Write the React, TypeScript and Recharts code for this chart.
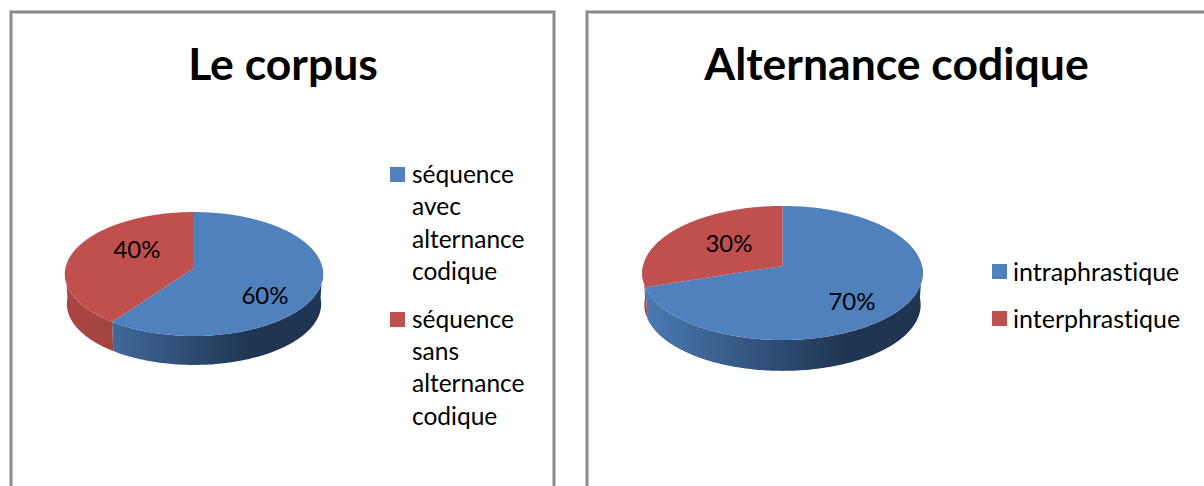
import React from 'react';
import { PieChart, Pie, Legend } from 'recharts';

const corpusNames = ['séquence avec alternance codique', 'séquence sans alternance codique'];
const corpusValues = [60, 40];
const alternanceNames = ['intraphrastique', 'interphrastique'];
const alternanceValues = [70, 30];
const sliceColors = ['#4f81bd', '#c0504d'];

const FONT = 'Lato, Carlito, Calibri, sans-serif';

type Disc = { b: number; a: number; k: number; depth: number };

// perspective projection of a point on the unit disc, theta clockwise from 12 o'clock
function project(cx: number, cy: number, d: Disc, theta: number, shrink = 1, dy = 0) {
  const rad = (theta * Math.PI) / 180;
  const u = Math.sin(rad);
  const v = -Math.cos(rad);
  const s = 1 / (1 - d.k * v);
  return [cx + d.b * shrink * u * s, cy + dy + d.a * shrink * v * s];
}

function arcPoints(cx: number, cy: number, d: Disc, from: number, to: number, shrink = 1, dy = 0) {
  const pts: number[][] = [];
  const steps = Math.max(2, Math.ceil(Math.abs(to - from)));
  for (let i = 0; i <= steps; i++) {
    pts.push(project(cx, cy, d, from + ((to - from) * i) / steps, shrink, dy));
  }
  return pts;
}

const toPath = (pts: number[][]) =>
  'M' + pts.map((p) => `${p[0].toFixed(2)},${p[1].toFixed(2)}`).join('L') + 'Z';

function makeSlice(d: Disc, prefix: string) {
  return function Slice(props: any) {
    const { cx, cy, startAngle, endAngle, fill, index } = props;
    const from = 90 - startAngle;
    const to = 90 - endAngle;
    const wallFrom = Math.max(from, 90);
    const wallTo = Math.min(to, 270);
    const blue = fill === sliceColors[0];
    const id = `${prefix}-wall-${index}`;
    let wall = null;
    if (wallTo > wallFrom) {
      const pts = [
        ...arcPoints(cx, cy, d, wallFrom, wallTo),
        ...arcPoints(cx, cy, d, wallTo, wallFrom, 0.985, d.depth),
      ];
      wall = <path d={toPath(pts)} fill={`url(#${id})`} />;
    }
    return (
      <g>
        <defs>
          <linearGradient
            id={id}
            gradientUnits="userSpaceOnUse"
            x1={cx - d.b * 0.95}
            x2={cx + d.b * 0.45}
            y1={0}
            y2={0}
          >
            <stop offset="0" stopColor={blue ? '#4a78b0' : '#a94643'} />
            <stop offset="1" stopColor={blue ? '#1f3552' : '#8f3835'} />
          </linearGradient>
        </defs>
        {wall}
        <path d={toPath([[cx, cy], ...arcPoints(cx, cy, d, from, to)])} fill={fill} />
      </g>
    );
  };
}

type PanelProps = {
  prefix: string;
  left: number;
  width: number;
  title: string;
  titleX: number;
  names: string[];
  values: number[];
  cx: number;
  cy: number;
  disc: Disc;
  labelAt: number[][];
  legendLeft: number;
  legendTop: number;
  legendWidth: number;
  legendGap: number;
  legendSize: number;
};

function Panel(p: PanelProps) {
  const table = p.names.map((name, i) => ({ name, value: p.values[i], fill: sliceColors[i] }));
  return (
    <div style={{ position: 'absolute', left: p.left, top: 0, width: p.width, height: 486 }}>
      <div
        style={{
          position: 'absolute',
          left: p.titleX - 300,
          width: 600,
          top: 36,
          textAlign: 'center',
          fontFamily: FONT,
          fontWeight: 700,
          fontSize: 44.5,
          lineHeight: '54px',
          color: '#000',
        }}
      >
        {p.title}
      </div>
      <PieChart width={p.width} height={486} margin={{ top: 0, right: 0, bottom: 0, left: 0 }}>
        <Pie
          data={table}
          dataKey="value"
          nameKey="name"
          cx={p.cx}
          cy={p.cy}
          outerRadius={p.disc.b}
          startAngle={90}
          endAngle={-270}
          stroke="none"
          isAnimationActive={false}
          shape={makeSlice(p.disc, p.prefix)}
          labelLine={false}
          label={(l: any) => (
            <text
              x={p.labelAt[l.index][0]}
              y={p.labelAt[l.index][1]}
              textAnchor="middle"
              dominantBaseline="central"
              fontFamily={FONT}
              fontSize={24}
              fill="#000"
            >
              {`${l.value}%`}
            </text>
          )}
        />
        <Legend
          wrapperStyle={{ position: 'absolute', left: p.legendLeft, top: p.legendTop, width: p.legendWidth }}
          content={() => (
            <div
              style={{
                fontFamily: FONT,
                fontSize: p.legendSize,
                fontVariantLigatures: 'none',
                lineHeight: '32.4px',
                color: '#000',
              }}
            >
              {table.map((t) => (
                <div key={t.name} style={{ position: 'relative', paddingLeft: p.legendGap, marginBottom: 15 }}>
                  <span
                    style={{
                      position: 'absolute',
                      left: 0,
                      top: 9,
                      width: 15,
                      height: 15,
                      background: t.fill,
                    }}
                  />
                  {t.name}
                </div>
              ))}
            </div>
          )}
        />
      </PieChart>
    </div>
  );
}

const frame = (left: number, width: number): React.CSSProperties => ({
  position: 'absolute',
  left,
  top: 11,
  width,
  height: 600,
  boxSizing: 'border-box',
  border: '2px solid #8a8a8a',
  boxShadow: 'inset 0 0 0 1px #c4c4c4, 0 0 0 1px #c4c4c4',
});

export default function App() {
  return (
    <div
      style={{
        position: 'absolute',
        left: 0,
        top: 0,
        width: 1204,
        height: 486,
        overflow: 'hidden',
        background: '#fff',
      }}
    >
      <div style={frame(10, 545)} />
      <div style={frame(586, 700)} />
      <Panel
        prefix="corpus"
        left={0}
        width={570}
        title="Le corpus"
        titleX={283}
        names={corpusNames}
        values={corpusValues}
        cx={194}
        cy={268}
        disc={{ b: 128.5, a: 61.4, k: 0.097, depth: 30 }}
        labelAt={[[265, 294], [137, 248]]}
        legendLeft={390}
        legendTop={158}
        legendWidth={142}
        legendGap={22}
        legendSize={24.5}
      />
      <Panel
        prefix="alternance"
        left={570}
        width={634}
        title="Alternance codique"
        titleX={326.5}
        names={alternanceNames}
        values={alternanceValues}
        cx={212.5}
        cy={266}
        disc={{ b: 139.5, a: 66.3, k: 0.104, depth: 32 }}
        labelAt={[[282, 300], [159, 242]]}
        legendLeft={422}
        legendTop={255}
        legendWidth={200}
        legendGap={21}
        legendSize={25}
      />
    </div>
  );
}
